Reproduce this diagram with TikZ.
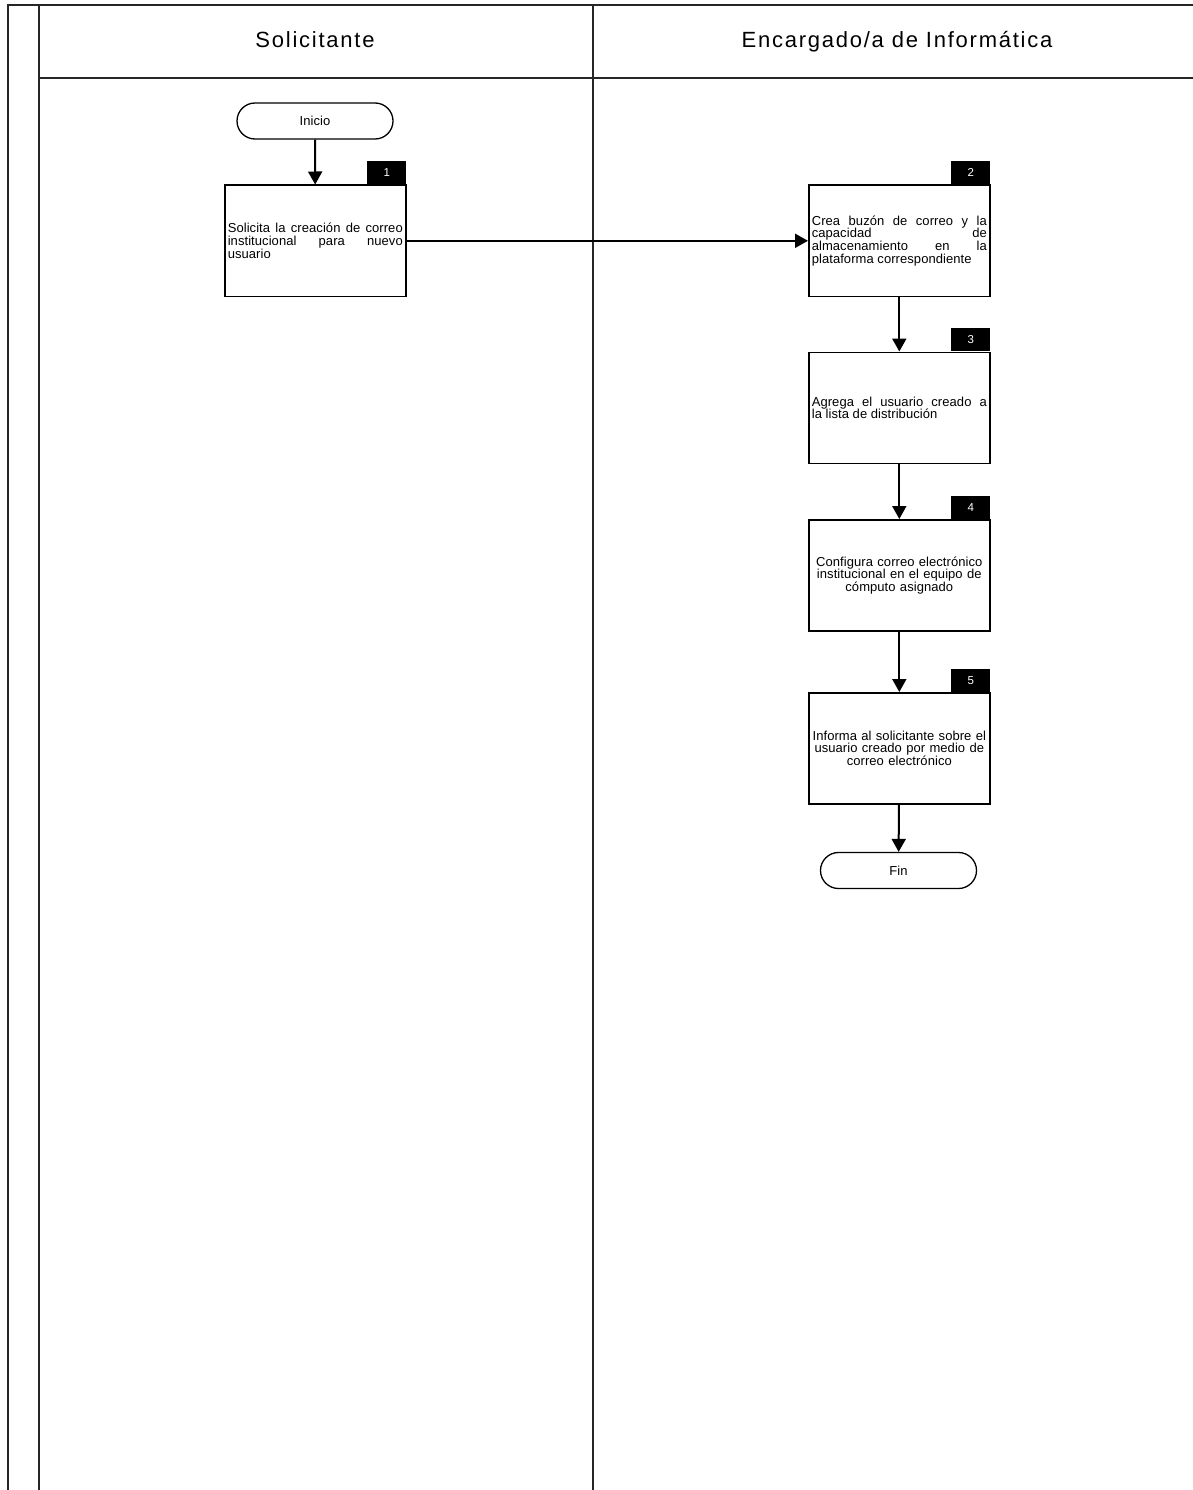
\documentclass[tikz,border=0pt]{standalone}
\usepackage{fontspec}
\setmainfont{Liberation Sans}
\newfontfamily\boxfont[LetterSpace=0.5]{Liberation Sans}
\newfontfamily\headfont[LetterSpace=8]{Liberation Sans}
\usetikzlibrary{arrows.meta}
\begin{document}
\begin{tikzpicture}[x=1pt,y=-1pt,
  lane/.style={line width=2pt, draw=black!85},
  proc/.style={draw, line width=1.6pt, minimum width=181pt, minimum height=111pt,
    anchor=north west, inner xsep=3pt, inner ysep=0pt, text width=175pt,
    font=\boxfont\fontsize{13}{12.6}\selectfont},
  badge/.style={fill=black, text=white, minimum width=39pt, minimum height=23pt,
    inner sep=0pt, anchor=south east, font=\fontsize{11.5}{12}\selectfont},
  term/.style={draw, line width=1.3pt, rounded corners=18pt, minimum width=156pt,
    minimum height=36pt, inner sep=0pt, font=\boxfont\fontsize{13}{12}\selectfont},
  head/.style={font=\headfont\fontsize{22}{26}\selectfont, inner sep=0pt, anchor=base},
  flow/.style={line width=2pt, -{Triangle[length=13pt,width=14pt]}}]
\useasboundingbox (0,0) rectangle (1193,1490);
% lanes
\draw[lane] (7.5,1490) -- (7.5,5.5) -- (1193,5.5);
\draw[lane] (38.5,1490) -- (38.5,5.5);
\draw[lane] (38.5,78) -- (1193,78);
\draw[lane] (592.5,5.5) -- (592.5,1490);
\node[head] (h1) at (315,48) {Solicitante};
\node[head] (h2) at (897,48) {Encargado/a de Informática};
% nodes
\node[term] (inicio) at (315,121) {Inicio};
\node[proc, align=justify] (p1) at (224,184.5) {Solicita la creación de correo\linebreak institucional para nuevo\linebreak usuario};
\node[badge] (b1) at (p1.north east) {1};
\node[proc, align=justify] (p2) at (808,184.5) {Crea buzón de correo y la\linebreak capacidad de\linebreak almacenamiento en la\linebreak plataforma correspondiente};
\node[badge] (b2) at (p2.north east) {2};
\node[proc, align=justify] (p3) at (808,351.5) {Agrega el usuario creado a\linebreak la lista de distribución};
\node[badge] (b3) at (p3.north east) {3};
\node[proc, align=center] (p4) at (808,519) {Configura correo electrónico\\ institucional en el equipo de\\ cómputo asignado};
\node[badge] (b4) at (p4.north east) {4};
\node[proc, align=center] (p5) at (808,692) {Informa al solicitante sobre el\\ usuario creado por medio de\\ correo electrónico};
\node[badge] (b5) at (p5.north east) {5};
\node[term] (fin) at (898.5,870.5) {Fin};
% connectors
\draw[flow] (inicio) -- (p1);
\draw[flow] (p1.east) -- (p2.west);
\draw[flow] (p2) -- (p3);
\draw[flow] (p3) -- (p4);
\draw[flow] (p4) -- (p5);
\draw[flow] (p5) -- (fin);
\end{tikzpicture}
\end{document}
